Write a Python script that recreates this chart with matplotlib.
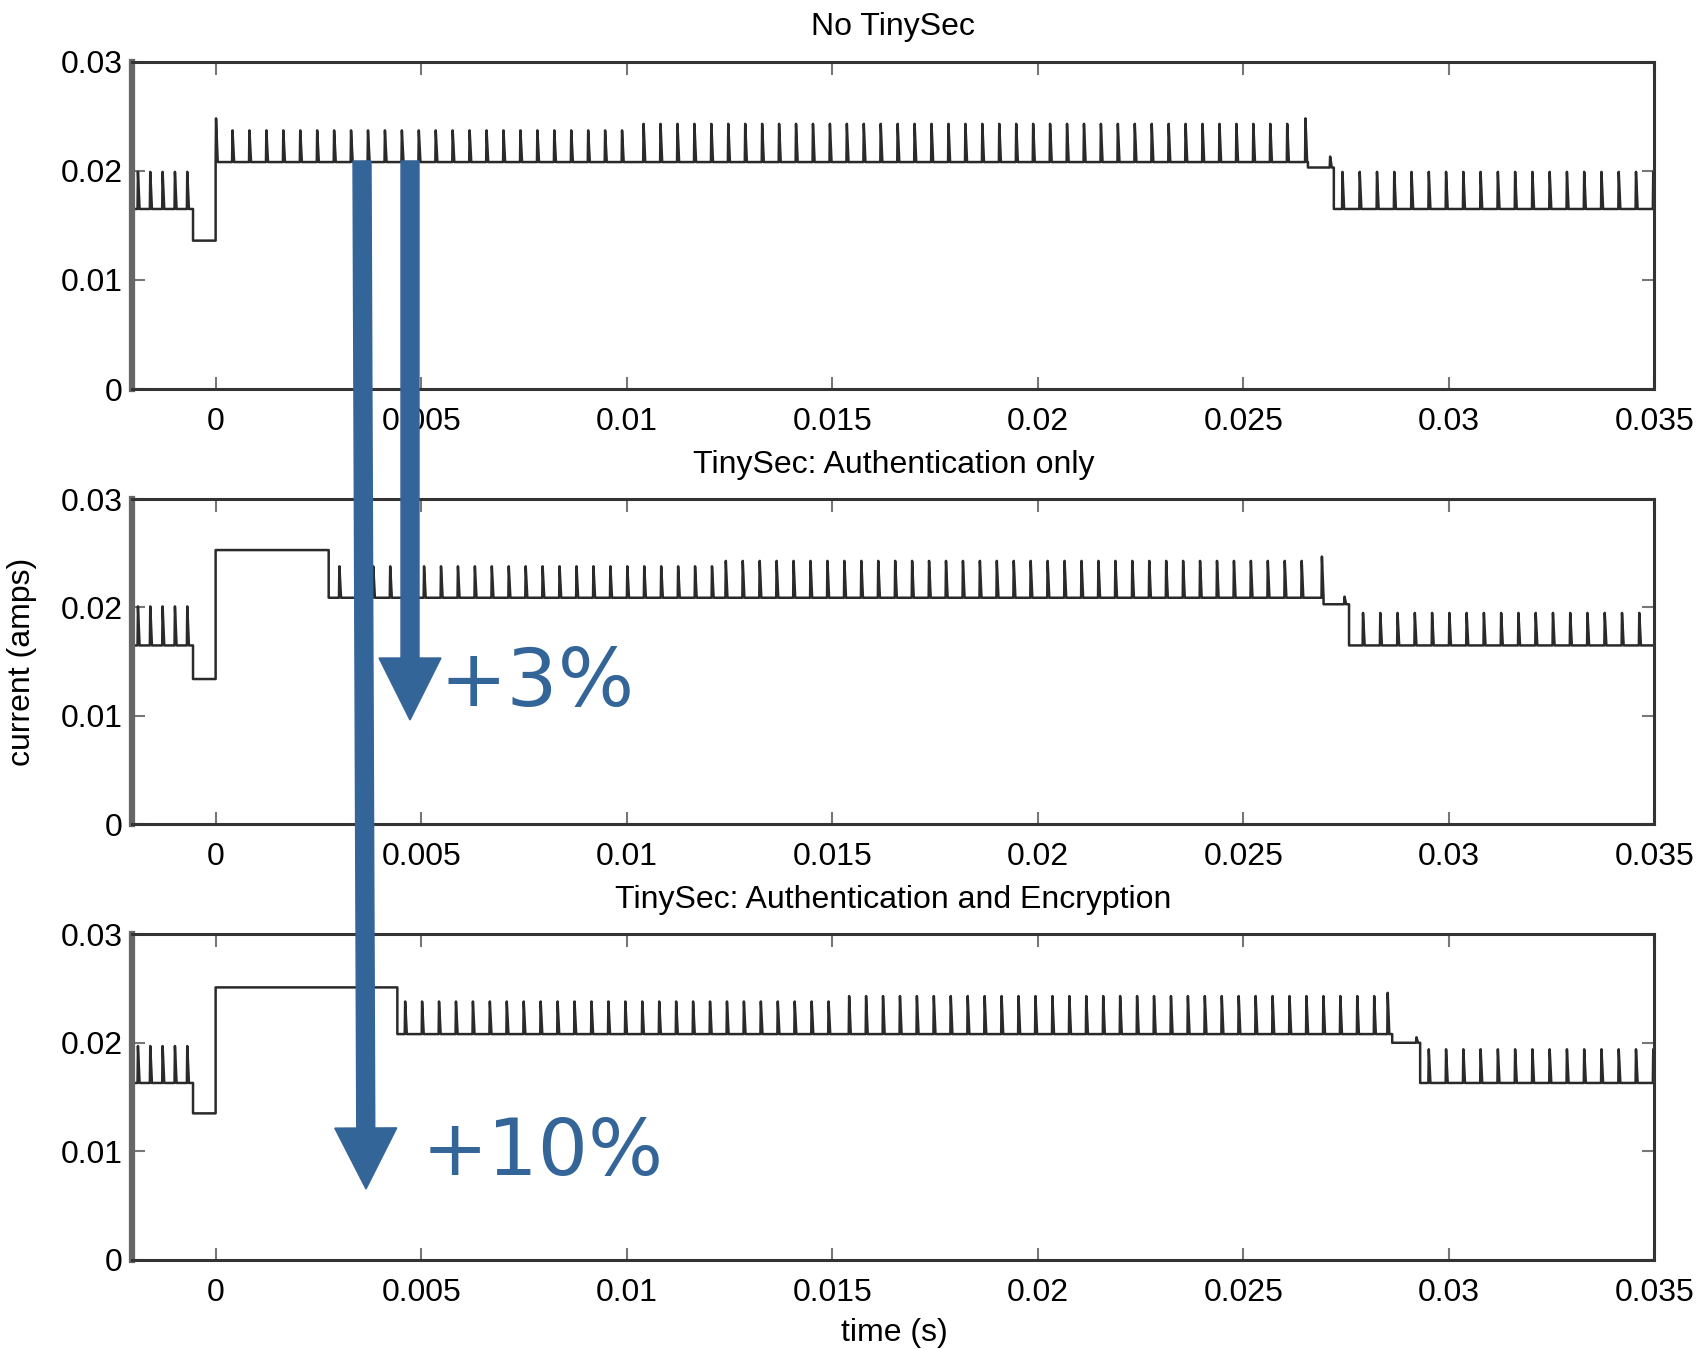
import numpy as np
import matplotlib.pyplot as plt
from matplotlib.patches import FancyArrow
from matplotlib.transforms import IdentityTransform

##############
# data
##############

titles = ['No TinySec',
          'TinySec: Authentication only',
          'TinySec: Authentication and Encryption']

x_ticks = [0, 0.005, 0.01, 0.015, 0.02, 0.025, 0.03, 0.035]
x_labels = ['0', '0.005', '0.01', '0.015', '0.02', '0.025', '0.03', '0.035']
y_ticks = [0, 0.01, 0.02, 0.03]
y_labels = ['0', '0.01', '0.02', '0.03']

# flat levels: (start, end, current)
levels_none = [(-0.0021, -0.00055, 0.0165), (-0.00055, 0.0, 0.0136),
               (0.0, 0.02657, 0.0208), (0.02657, 0.0272, 0.0203),
               (0.0272, 0.0351, 0.0165)]
levels_auth = [(-0.0021, -0.00055, 0.0165), (-0.00055, 0.0, 0.0134),
               (0.0, 0.00275, 0.0253), (0.00275, 0.02695, 0.0209),
               (0.02695, 0.02757, 0.0203), (0.02757, 0.0351, 0.0165)]
levels_enc = [(-0.0021, -0.00055, 0.0163), (-0.00055, 0.0, 0.0135),
              (0.0, 0.00442, 0.0251), (0.00442, 0.02862, 0.0208),
              (0.02862, 0.0293, 0.0200), (0.0293, 0.0351, 0.0163)]

# spike trains: (first spike, last spike, spacing, peak current)
spikes_none = [(-0.0019, -0.0007, 0.0003, 0.0199),
               (0.0, 0.0, 0.0004, 0.0248),
               (0.0004, 0.0100, 0.000412, 0.0237),
               (0.0104, 0.0262, 0.000412, 0.0243),
               (0.0265, 0.0265, 0.0004, 0.0248),
               (0.0271, 0.0271, 0.0004, 0.0213),
               (0.0274, 0.0350, 0.00042, 0.0199)]
spikes_auth = [(-0.0019, -0.0007, 0.0003, 0.0201),
               (0.0030, 0.0120, 0.000412, 0.0238),
               (0.0124, 0.0266, 0.000412, 0.0243),
               (0.0269, 0.0269, 0.0004, 0.0247),
               (0.02745, 0.02745, 0.0004, 0.0210),
               (0.0279, 0.0350, 0.00042, 0.0195)]
spikes_enc = [(-0.0019, -0.0007, 0.0003, 0.0197),
              (0.0046, 0.0150, 0.000412, 0.0238),
              (0.0154, 0.0282, 0.000412, 0.0243),
              (0.0285, 0.0285, 0.0004, 0.0246),
              (0.0292, 0.0292, 0.0004, 0.0205),
              (0.0295, 0.0350, 0.00042, 0.0194)]

panels = [(levels_none, spikes_none),
          (levels_auth, spikes_auth),
          (levels_enc, spikes_enc)]


def build_trace(levels, spikes):
    times = []
    peaks = []
    for first, last, step, peak in spikes:
        for t in np.arange(first, last + step / 2, step):
            times.append(t)
            peaks.append(peak)
    xs, ys = [], []
    for start, end, base in levels:
        xs.append(start)
        ys.append(base)
        for t, p in zip(times, peaks):
            if start <= t < end:
                xs += [t, t + 0.00001, t + 0.00005]
                ys += [base, p, base]
        xs.append(end)
        ys.append(base)
    return xs, ys


##############
# plot
##############

plt.rcParams['font.family'] = ['Liberation Sans', 'DejaVu Sans']

fig = plt.figure(figsize=(16.99, 13.49), dpi=100)

boxes = [[0.0778, 0.7116, 0.8960, 0.2427],
         [0.0778, 0.3890, 0.8960, 0.2410],
         [0.0778, 0.0660, 0.8960, 0.2415]]

for box, title, (levels, spikes) in zip(boxes, titles, panels):
    ax = fig.add_axes(box)
    xs, ys = build_trace(levels, spikes)
    ax.plot(xs, ys, color='#2a2a2a', lw=1.8)
    ax.set_xlim(-0.00203, 0.035)
    ax.set_ylim(0, 0.03)
    ax.set_xticks(x_ticks)
    ax.set_xticklabels(x_labels)
    ax.set_yticks(y_ticks)
    ax.set_yticklabels(y_labels)
    ax.tick_params(direction='in', top=True, right=True, length=9,
                   width=1.5, color='#777777', labelsize=23)
    ax.tick_params(axis='x', pad=13)
    ax.tick_params(axis='y', pad=7)
    for side in ['top', 'right', 'bottom']:
        ax.spines[side].set_color('#333333')
        ax.spines[side].set_linewidth(2.2)
    ax.spines['left'].set_color('#666666')
    ax.spines['left'].set_linewidth(4.5)
    ax.set_title(title, fontsize=23, pad=19)

fig.text(22 / 1699, 1 - 662 / 1349, 'current (amps)', rotation=90,
         ha='center', va='center', fontsize=23)
fig.text(894 / 1699, 1 - 1333 / 1349, 'time (s)',
         ha='center', va='center', fontsize=23)

# blue annotation arrows, in figure pixels
blue = '#346599'
H = 1349
fig.add_artist(FancyArrow(362, H - 161, 4, -(1189 - 161), width=18,
                          head_width=62, head_length=61,
                          length_includes_head=True, color=blue,
                          transform=IdentityTransform()))
fig.add_artist(FancyArrow(410, H - 161, 0, -(720 - 161), width=18,
                          head_width=62, head_length=62,
                          length_includes_head=True, color=blue,
                          transform=IdentityTransform()))
fig.text(440 / 1699, 1 - 706 / H, '+3%', color=blue, fontsize=58,
         family='DejaVu Sans', ha='left', va='baseline')
fig.text(422 / 1699, 1 - 1175 / H, '+10%', color=blue, fontsize=57,
         family='DejaVu Sans', ha='left', va='baseline')

fig.savefig('out.png', dpi=100)
